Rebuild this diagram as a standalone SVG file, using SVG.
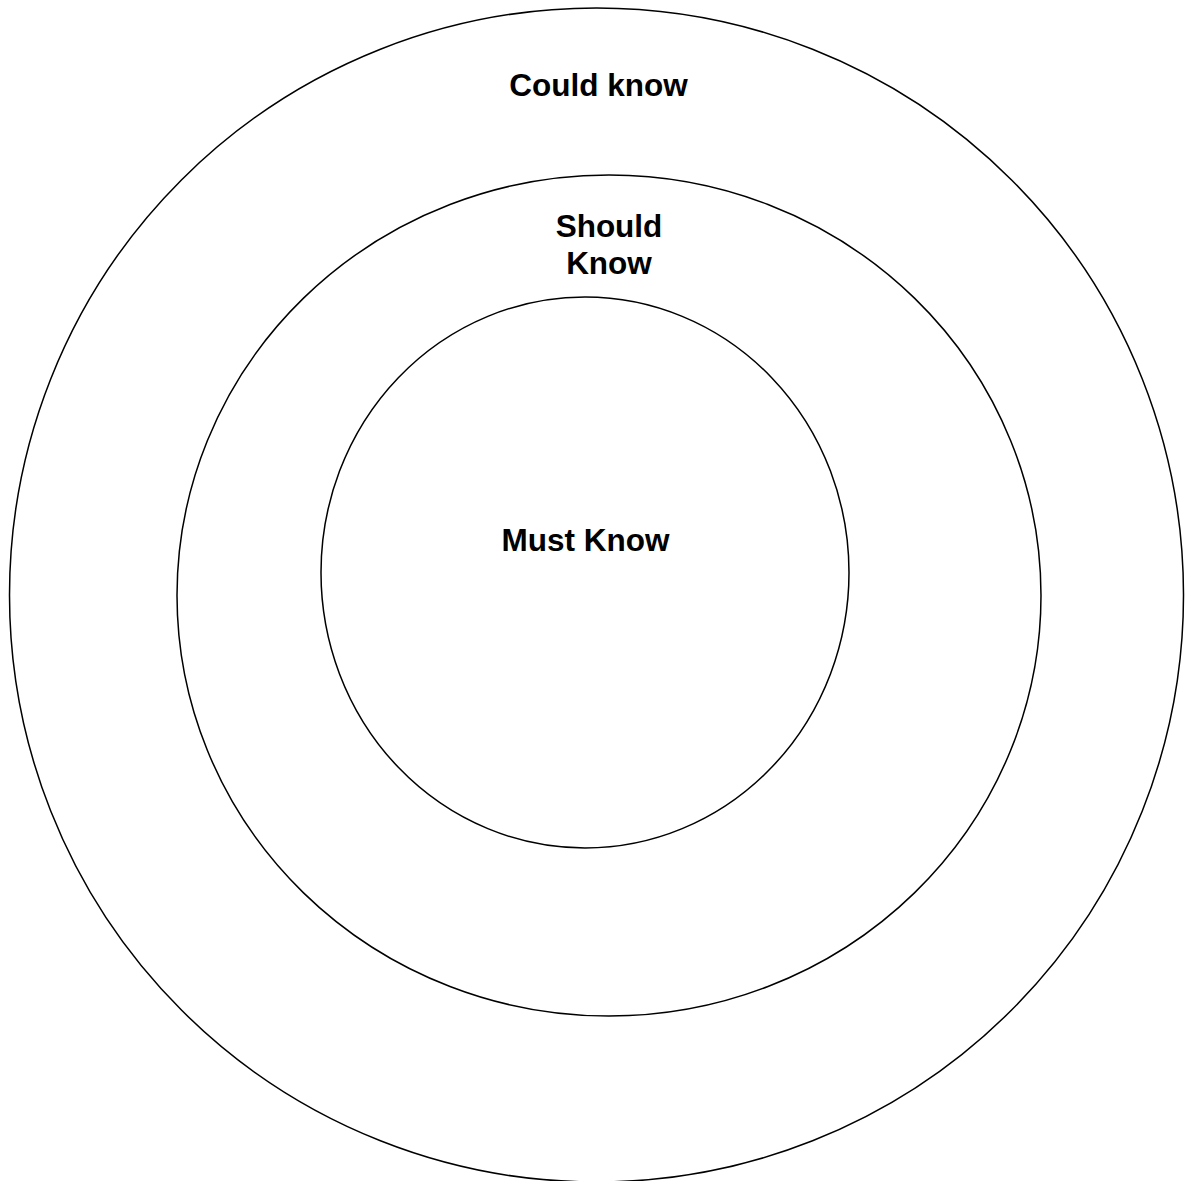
<svg xmlns="http://www.w3.org/2000/svg" width="1190" height="1181" viewBox="0 0 1190 1181">
<style>
.ring{fill:none;stroke:#000;stroke-width:1.5}
.lbl{font-family:"Liberation Sans",Arial,sans-serif;font-weight:bold;font-size:31.5px;fill:#000;text-anchor:middle}
</style>
<rect width="1190" height="1181" fill="#fff"/>
<g id="could-know">
<ellipse class="ring" cx="596.5" cy="595" rx="587" ry="587"/>
<text class="lbl" x="598.5" y="96">Could know</text>
</g>
<g id="should-know">
<ellipse class="ring" cx="609" cy="595.5" rx="432" ry="420.5"/>
<text class="lbl" x="609" y="237">Should</text>
<text class="lbl" x="609" y="274">Know</text>
</g>
<g id="must-know">
<ellipse class="ring" cx="585" cy="572.5" rx="264" ry="275.5"/>
<text class="lbl" x="585.5" y="551">Must Know</text>
</g>
<g id="connectors"/>
</svg>
